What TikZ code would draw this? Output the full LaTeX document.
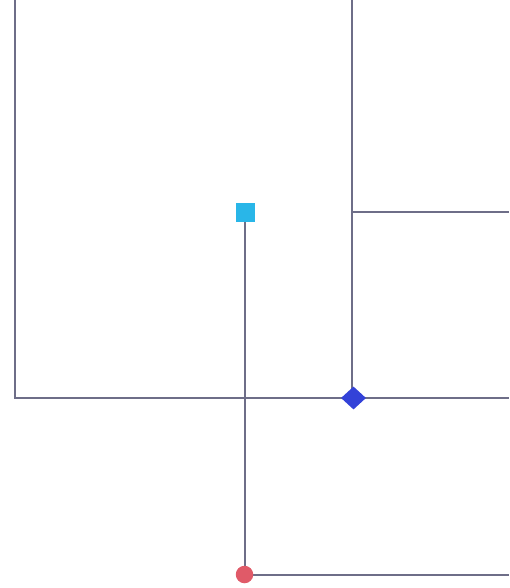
\documentclass[tikz,border=0pt]{standalone}
\usetikzlibrary{shapes.geometric}
\definecolor{linec}{HTML}{6E6E88}
\definecolor{cyanc}{HTML}{29B6E8}
\definecolor{bluec}{HTML}{3342D8}
\definecolor{redc}{HTML}{E05A68}
\begin{document}
\begin{tikzpicture}[x=1pt,y=-1pt,
  conn/.style={draw=linec,line width=1.1pt},
  sq/.style={rectangle,fill=cyanc,minimum size=19pt,inner sep=0pt},
  dia/.style={diamond,fill=bluec,minimum width=25pt,minimum height=23pt,inner sep=0pt},
  dot/.style={circle,fill=redc,minimum size=17.5pt,inner sep=0pt}]
\useasboundingbox (0,0) rectangle (509,588);
\coordinate (tl) at (15,0);
\coordinate (bl) at (15,398);
\coordinate (tm) at (352,0);
\coordinate (rm) at (509,212);
\coordinate (rb) at (509,398);
\coordinate (rr) at (509,575);
\coordinate (jm) at (352,212);
\draw[conn] (tl) -- (bl) -- (rb);
\draw[conn] (tm) -- (352,398);
\draw[conn] (jm) -- (rm);
\draw[conn] (245,212) -- (245,575) -- (rr);
\node[sq] (s) at (245,212.5) {};
\node[dia] (d) at (353.5,398) {};
\node[dot] (c) at (244.5,574.5) {};
\end{tikzpicture}
\end{document}
